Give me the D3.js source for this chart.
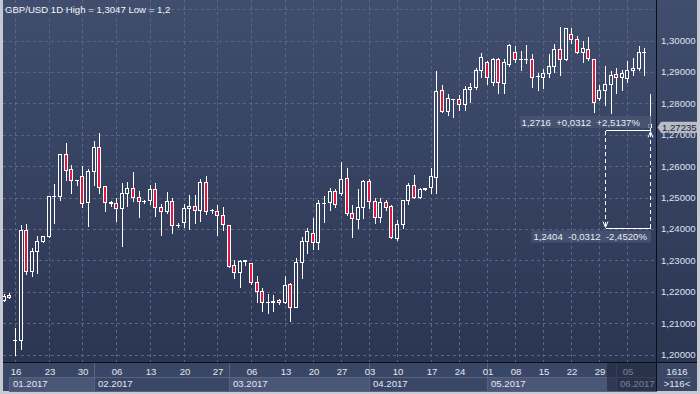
<!DOCTYPE html>
<html>
<head>
<meta charset="utf-8">
<script src="https://cdn.jsdelivr.net/npm/d3@7"></script>
<style>
html, body { margin: 0; padding: 0; background: #c5c9d1; }
svg { display: block; font-family: "Liberation Sans", Arial, sans-serif; }
</style>
</head>
<body>
<script>
// daily bars, GBP/USD (MM-DD, 2017)
var dates = [
  "01-13","01-15","01-16","01-17","01-18","01-19","01-20","01-22","01-23","01-24",
  "01-25","01-26","01-27","01-29","01-30","01-31","02-01","02-02","02-03","02-05",
  "02-06","02-07","02-08","02-09","02-10","02-12","02-13","02-14","02-15","02-16",
  "02-17","02-19","02-20","02-21","02-22","02-23","02-24","02-26","02-27","02-28",
  "03-01","03-02","03-03","03-05","03-06","03-07","03-08","03-09","03-10","03-12",
  "03-13","03-14","03-15","03-16","03-17","03-20","03-21","03-22","03-23","03-24",
  "03-27","03-28","03-29","03-30","03-31","04-03","04-04","04-05","04-06","04-07",
  "04-10","04-11","04-12","04-13","04-14","04-16","04-17","04-18","04-19","04-20",
  "04-21","04-24","04-25","04-26","04-27","04-28","05-01","05-02","05-03","05-04",
  "05-05","05-08","05-09","05-10","05-11","05-12","05-15","05-16","05-17","05-18",
  "05-19","05-22","05-23","05-24","05-25","05-26","05-29","05-30","05-31","06-01",
  "06-02","06-05","06-06","06-07","06-08","06-09"
];

var open = [
  1.2175,1.2189,1.2045,1.2046,1.2396,1.2267,1.2331,1.2360,1.2377,1.2505,
  1.2506,1.2638,1.2591,1.2556,1.2568,1.2485,1.2583,1.2660,1.2536,1.2485,
  1.2481,1.2466,1.2513,1.2529,1.2501,1.2489,1.2492,1.2526,1.2469,1.2456,
  1.2488,1.2412,1.2421,1.2466,1.2472,1.2459,1.2549,1.2459,1.2456,1.2443,
  1.2411,1.2285,1.2264,1.2299,1.2290,1.2232,1.2203,1.2167,1.2168,1.2173,
  1.2166,1.2224,1.2152,1.2294,1.2360,1.2388,1.2357,1.2481,1.2485,1.2522,
  1.2515,1.2561,1.2450,1.2432,1.2469,1.2553,1.2489,1.2439,1.2485,1.2473,
  1.2372,1.2415,1.2492,1.2539,1.2502,1.2527,1.2532,1.2566,1.2842,1.2776,
  1.2815,1.2814,1.2797,1.2846,1.2853,1.2906,1.2931,1.2869,1.2940,1.2866,
  1.2924,1.2964,1.2940,1.2941,1.2941,1.2886,1.2883,1.2897,1.2919,1.2972,
  1.2940,1.3021,1.3004,1.2964,1.2972,1.2940,1.2816,1.2842,1.2861,1.2892,
  1.2885,1.2880,1.2906,1.2911,1.2964,1.2733
];
var high = [
  1.2195,1.2199,1.2088,1.2416,1.2419,1.2343,1.2381,1.2380,1.2508,1.2546,
  1.2642,1.2677,1.2607,1.2558,1.2603,1.2595,1.2683,1.2709,1.2540,1.2492,
  1.2502,1.2550,1.2553,1.2584,1.2524,1.2495,1.2543,1.2549,1.2481,1.2522,
  1.2502,1.2423,1.2481,1.2511,1.2511,1.2562,1.2572,1.2466,1.2478,1.2473,
  1.2412,1.2303,1.2303,1.2303,1.2292,1.2253,1.2214,1.2197,1.2192,1.2179,
  1.2253,1.2232,1.2311,1.2377,1.2405,1.2439,1.2494,1.2508,1.2532,1.2529,
  1.2616,1.2598,1.2479,1.2529,1.2558,1.2561,1.2502,1.2502,1.2494,1.2479,
  1.2431,1.2494,1.2548,1.2575,1.2532,1.2531,1.2598,1.2905,1.2861,1.2832,
  1.2818,1.2829,1.2858,1.2869,1.2917,1.2964,1.2938,1.2948,1.2948,1.2945,
  1.2991,1.2986,1.2970,1.2988,1.2959,1.2901,1.2911,1.2959,1.2991,1.3047,
  1.3044,1.3044,1.3018,1.3002,1.3014,1.2941,1.2861,1.2922,1.2906,1.2917,
  1.2908,1.2938,1.2948,1.2986,1.2980,1.2832
];
var low = [
  1.2170,1.2181,1.2000,1.2017,1.2256,1.2250,1.2260,1.2358,1.2374,1.2419,
  1.2492,1.2556,1.2515,1.2541,1.2469,1.2409,1.2540,1.2515,1.2458,1.2473,
  1.2426,1.2346,1.2473,1.2489,1.2439,1.2483,1.2479,1.2441,1.2381,1.2452,
  1.2388,1.2407,1.2407,1.2401,1.2418,1.2426,1.2446,1.2452,1.2381,1.2396,
  1.2280,1.2243,1.2214,1.2286,1.2224,1.2168,1.2138,1.2133,1.2138,1.2160,
  1.2163,1.2108,1.2150,1.2243,1.2322,1.2335,1.2335,1.2423,1.2460,1.2469,
  1.2508,1.2444,1.2375,1.2402,1.2434,1.2466,1.2420,1.2423,1.2460,1.2370,
  1.2365,1.2402,1.2479,1.2499,1.2499,1.2525,1.2515,1.2515,1.2771,1.2763,
  1.2757,1.2779,1.2779,1.2805,1.2846,1.2885,1.2861,1.2858,1.2832,1.2832,
  1.2919,1.2932,1.2906,1.2927,1.2853,1.2843,1.2848,1.2885,1.2901,1.2890,
  1.2937,1.2991,1.2959,1.2932,1.2938,1.2773,1.2810,1.2795,1.2768,1.2832,
  1.2842,1.2869,1.2890,1.2906,1.2890,1.2716
];
var close = [
  1.2187,1.2182,1.2046,1.2396,1.2267,1.2331,1.2360,1.2377,1.2505,1.2506,
  1.2639,1.2587,1.2556,1.2555,1.2481,1.2583,1.2661,1.2534,1.2485,1.2484,
  1.2466,1.2513,1.2529,1.2501,1.2489,1.2490,1.2526,1.2469,1.2456,1.2488,
  1.2411,1.2413,1.2466,1.2473,1.2459,1.2549,1.2457,1.2460,1.2443,1.2416,
  1.2283,1.2264,1.2299,1.2300,1.2232,1.2203,1.2166,1.2168,1.2170,1.2166,
  1.2221,1.2152,1.2294,1.2360,1.2394,1.2357,1.2481,1.2482,1.2522,1.2479,
  1.2558,1.2450,1.2434,1.2469,1.2553,1.2489,1.2439,1.2485,1.2471,1.2375,
  1.2415,1.2492,1.2539,1.2502,1.2526,1.2529,1.2568,1.2840,1.2776,1.2816,
  1.2814,1.2797,1.2846,1.2853,1.2906,1.2948,1.2885,1.2940,1.2867,1.2930,
  1.2986,1.2940,1.2941,1.2940,1.2885,1.2888,1.2897,1.2919,1.2972,1.2940,
  1.3039,1.3004,1.2964,1.2975,1.2943,1.2805,1.2842,1.2861,1.2890,1.2885,
  1.2897,1.2906,1.2911,1.2964,1.2962,1.27235
];

var priceTicks = [1.20, 1.21, 1.22, 1.23, 1.24, 1.25, 1.26, 1.27, 1.28, 1.29, 1.30];
var gridPrices = [1.20, 1.21, 1.22, 1.23, 1.24, 1.25, 1.26, 1.27, 1.28, 1.29, 1.30, 1.31];
var weekTicks = ["01-16","01-23","01-30","02-06","02-13","02-20","02-27","03-06","03-13","03-20",
  "03-27","04-03","04-10","04-17","04-24","05-01","05-08","05-15","05-22","05-29","06-05"];
var monthLabels = ["01.2017", "02.2017", "03.2017", "04.2017", "05.2017", "06.2017"];

var lastPrice = 1.27235;
var measureDates = ["05-30", "06-09"];
var measureLevels = [1.2716, 1.2404];
var measureTexts = ["1,2716  +0,0312  +2,5137%", "1,2404  -0,0312  -2,4520%"];
var barInfo = ["1616", ">116<"];

var W = 700, H = 394;
var plot = {left: 3, right: 656, top: 0, bottom: 362};
var red = "#e2173e", wickColor = "#ffffff", gridColor = "#5a6686", textColor = "#e2e7f1";

var locale = d3.formatLocale({decimal: ",", thousands: ".", grouping: [3], currency: ["", ""]});
var fmt5 = locale.format(".5f");
var comma = function(v) { return String(v).replace(".", ","); };

var svg = d3.select("body").append("svg").attr("width", W).attr("height", H);

var defs = svg.append("defs");
var grad = defs.append("linearGradient").attr("id", "bg")
  .attr("gradientUnits", "userSpaceOnUse")
  .attr("x1", 0).attr("y1", 0).attr("x2", 0).attr("y2", 362);
grad.append("stop").attr("offset", "0%").attr("stop-color", "#404d6d");
grad.append("stop").attr("offset", "100%").attr("stop-color", "#2b3653");
defs.append("clipPath").attr("id", "plotClip").append("rect")
  .attr("x", plot.left).attr("y", plot.top)
  .attr("width", plot.right - plot.left).attr("height", plot.bottom - plot.top);

// frame + backgrounds
svg.append("rect").attr("width", W).attr("height", H).attr("fill", "#c5c9d1");
svg.append("rect").attr("x", 3).attr("y", 0).attr("width", 694).attr("height", 391).attr("fill", "url(#bg)");
svg.append("rect").attr("x", 3).attr("y", 363).attr("width", 694).attr("height", 28).attr("fill", "#3a4665");

var x = d3.scaleBand().domain(dates).range([0.95, 652.75]);
var y = d3.scaleLinear().domain([1.20, 1.30]).range([354.5, 40.5]);
var cx = function(d) { return Math.round(x(d) + x.bandwidth() / 2); };
var py = function(v) { return Math.round(y(v)) + 0.5; };

// grid
var grid = svg.append("g").attr("shape-rendering", "crispEdges").attr("stroke", gridColor).attr("stroke-dasharray", "3,3");
grid.selectAll(".h").data(gridPrices).enter().append("line")
  .attr("x1", plot.left).attr("x2", plot.right)
  .attr("y1", py).attr("y2", py);
grid.selectAll(".v").data(weekTicks).enter().append("line")
  .attr("x1", function(d) { return cx(d) + 0.5; }).attr("x2", function(d) { return cx(d) + 0.5; })
  .attr("y1", plot.top).attr("y2", plot.bottom);

// candles
var bars = dates.map(function(d, i) {
  return {date: d, o: open[i], h: high[i], l: low[i], c: close[i]};
});
var cg = svg.append("g").attr("clip-path", "url(#plotClip)").attr("shape-rendering", "crispEdges");
var candle = cg.selectAll(".candle").data(bars).enter().append("g").attr("class", "candle");
candle.append("line")
  .attr("x1", function(d) { return cx(d.date) + 0.5; })
  .attr("x2", function(d) { return cx(d.date) + 0.5; })
  .attr("y1", function(d) { return py(d.h); })
  .attr("y2", function(d) { return py(d.l); })
  .attr("stroke", wickColor);
candle.append("rect")
  .attr("x", function(d) { return cx(d.date) - 1.5; })
  .attr("y", function(d) { return py(Math.max(d.o, d.c)); })
  .attr("width", 3)
  .attr("height", function(d) { return Math.max(0.01, py(Math.min(d.o, d.c)) - py(Math.max(d.o, d.c))); })
  .attr("fill", function(d) { return d.c < d.o ? red : "url(#bg)"; })
  .attr("stroke", wickColor);

// title
svg.append("text").attr("x", 5).attr("y", 12.5)
  .attr("fill", "#f2f4f8").style("font-size", "9.6px")
  .text("GBP/USD 1D High = " + comma(d3.max(high)) + " Low = " + comma(d3.min(low)));

// measurement tool
var mx0 = cx(measureDates[0]) + 0.5, mx1 = cx(measureDates[1]) + 0.5;
var my0 = py(measureLevels[0]), my1 = py(measureLevels[1]);
var mg = svg.append("g").attr("stroke", "#ffffff").attr("fill", "none");
mg.append("line").attr("x1", mx0).attr("x2", mx1).attr("y1", my0).attr("y2", my0).attr("shape-rendering", "crispEdges");
mg.append("line").attr("x1", mx0).attr("x2", mx1).attr("y1", my1).attr("y2", my1).attr("shape-rendering", "crispEdges");
mg.append("line").attr("x1", mx0).attr("x2", mx0).attr("y1", my0).attr("y2", my1)
  .attr("stroke-dasharray", "4,3").attr("shape-rendering", "crispEdges");
mg.append("line").attr("x1", mx1).attr("x2", mx1).attr("y1", my0 + 2).attr("y2", my1)
  .attr("stroke-dasharray", "4,3").attr("shape-rendering", "crispEdges");
mg.append("path").attr("d", "M" + (mx1 - 2.5) + "," + (my0 + 7) + "L" + mx1 + "," + (my0 + 1) + "L" + (mx1 + 2.5) + "," + (my0 + 7));
mg.append("path").attr("d", "M" + (mx0 - 2.5) + "," + (my1 - 7) + "L" + mx0 + "," + (my1 - 1) + "L" + (mx0 + 2.5) + "," + (my1 - 7));

var labelEnds = [640, 647];
var labelYs = [my0 - 5, my1 + 11.5];
measureTexts.forEach(function(t, i) {
  var txt = svg.append("text").attr("x", labelEnds[i]).attr("y", labelYs[i])
    .attr("text-anchor", "end").attr("fill", "#e8ecf4")
    .style("font-size", "9.6px").style("white-space", "pre").text(t);
  var bb = txt.node().getBBox();
  svg.insert("rect", function() { return txt.node(); })
    .attr("x", bb.x - 2).attr("y", bb.y - 0.5).attr("width", 651 - bb.x + 2).attr("height", bb.height + 1)
    .attr("fill", "#4a5775").attr("opacity", 0.75);
});

// right price axis
var yAxis = d3.axisRight(y).tickValues(priceTicks).tickSize(0).tickPadding(4).tickFormat(fmt5);
svg.append("g").attr("transform", "translate(657,0)").call(yAxis)
  .call(function(g) { g.select(".domain").remove(); })
  .attr("font-family", null).attr("font-size", null)
  .selectAll("text").attr("fill", "#dce3f1").style("font-size", "9.6px");

// last price marker
var ly = y(lastPrice);
svg.append("path")
  .attr("d", "M657.5," + ly + "L661," + (ly - 5.5) + "L697," + (ly - 5.5) + "L697," + (ly + 5.5) + "L661," + (ly + 5.5) + "Z")
  .attr("fill", "#b7bcc7");
svg.append("text").attr("x", 662).attr("y", ly + 3.5).attr("fill", "#1b2131")
  .style("font-size", "9.6px").text(fmt5(lastPrice));

// date band: month boxes
var monthStarts = monthLabels.map(function(m) {
  var mm = m.slice(0, 2);
  return dates.filter(function(d) { return d.slice(0, 2) === mm; })[0];
});
var boxX = monthStarts.map(function(d) { return Math.max(cx(d), 9); });
var db = svg.append("g").attr("shape-rendering", "crispEdges");
monthLabels.forEach(function(m, i) {
  var x0 = boxX[i], x1 = i < monthLabels.length - 1 ? boxX[i + 1] : plot.right;
  db.append("rect").attr("x", x0 + 0.5).attr("y", 377.5).attr("width", x1 - x0).attr("height", 14)
    .attr("fill", i % 2 === 0 ? "#4a5676" : "#3a4665").attr("stroke", "#56627f");
  if (i > 0) {
    db.append("line").attr("x1", x0 + 0.5).attr("x2", x0 + 0.5).attr("y1", 363).attr("y2", 391).attr("stroke", "#56627f");
  }
  db.append("text").attr("x", x0 + 4).attr("y", 386.5).attr("fill", textColor)
    .style("font-size", "9.6px").text(m);
});
db.selectAll(".day").data(weekTicks).enter().append("text")
  .attr("x", function(d) { return cx(d) + 1; }).attr("y", 374.5)
  .attr("text-anchor", "middle").attr("fill", textColor).style("font-size", "9.6px")
  .text(function(d) { return d.slice(3); });

// highlighted range of the measurement on the date band
svg.append("rect").attr("x", mx0 + 1.5).attr("y", 363).attr("width", plot.right - mx0 - 1.5).attr("height", 28)
  .attr("fill", "#1c2336").attr("opacity", 0.55);

// bottom right counter
svg.append("text").attr("x", 677).attr("y", 374.5).attr("text-anchor", "middle")
  .attr("fill", textColor).style("font-size", "9.6px").text(barInfo[0]);
svg.append("line").attr("x1", 666).attr("x2", 690).attr("y1", 377.5).attr("y2", 377.5)
  .attr("stroke", "#56627f").attr("shape-rendering", "crispEdges");
svg.append("text").attr("x", 677).attr("y", 387).attr("text-anchor", "middle")
  .attr("fill", textColor).style("font-size", "9.6px").text(barInfo[1]);

// separators
svg.append("line").attr("x1", 3).attr("x2", 697).attr("y1", 362.5).attr("y2", 362.5)
  .attr("stroke", "#0b0e16").attr("shape-rendering", "crispEdges");
svg.append("line").attr("x1", 656.5).attr("x2", 656.5).attr("y1", 0).attr("y2", 391)
  .attr("stroke", "#0b0e16").attr("shape-rendering", "crispEdges");
</script>
</body>
</html>
